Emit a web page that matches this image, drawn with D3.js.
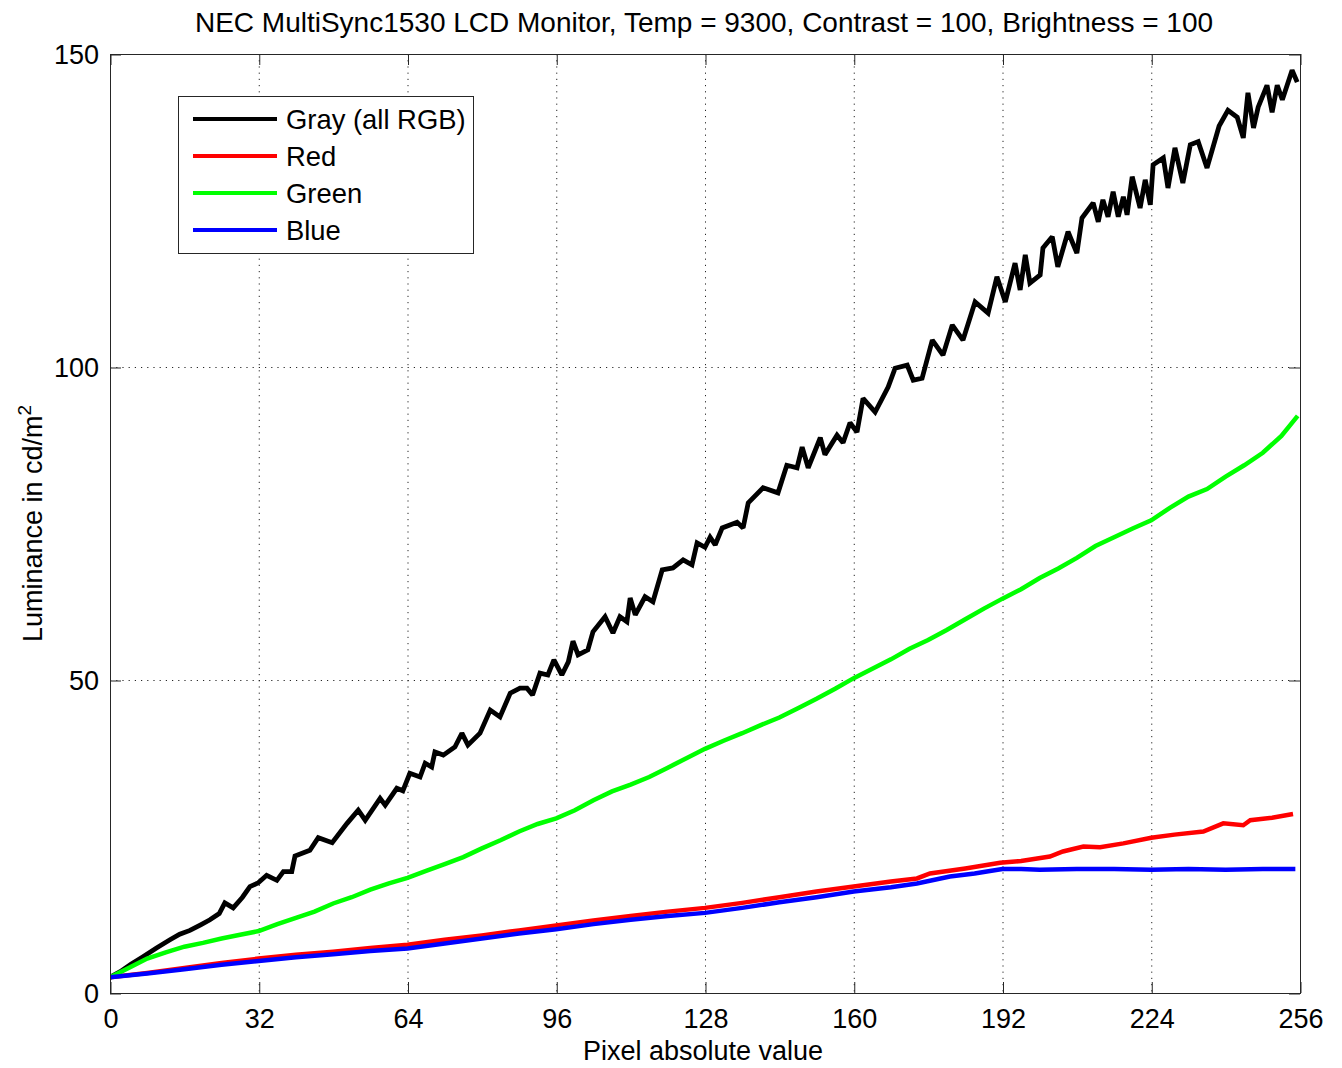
<!DOCTYPE html>
<html>
<head>
<meta charset="utf-8">
<script src="https://cdn.jsdelivr.net/npm/d3@7"></script>
<style>
  html, body { margin: 0; padding: 0; background: #fff; }
  svg { display: block; font-family: "Liberation Sans", Arial, Helvetica, sans-serif; }
</style>
</head>
<body>
<svg id="chart" width="1342" height="1068"></svg>
<script>
// ---------------- DATA ----------------
const titleText = "NEC MultiSync1530 LCD Monitor, Temp = 9300, Contrast = 100, Brightness = 100";
const xLabelText = "Pixel absolute value";
const yLabelText = "Luminance in cd/m";
const xTicks = [0, 32, 64, 96, 128, 160, 192, 224, 256];
const yTicks = [0, 50, 100, 150];
const seriesNames = ["Gray (all RGB)", "Red", "Green", "Blue"];
const seriesColors = ["#000000", "#ff0000", "#00ff00", "#0000ff"];

const grayX = [0,2.2,4.5,7.1,10,12.9,15,17.2,19.5,21.5,23.5,24.7,26.5,28.5,30.1,31.9,33.7,35.9,37.3,39.1,39.8,43,44.8,47.8,51,53.4,54.9,58.1,59.2,61.7,63,64.5,66.7,67.8,69.2,69.9,71.7,74.2,75.7,77,79.6,81.8,83.9,86.1,88.2,89.7,90.9,92.5,94.2,95.5,97.2,98.6,99.6,100.7,102.8,103.9,106.5,108.2,109.7,111.2,111.9,113,115.1,116.8,118.8,121.1,123.3,125.2,126.3,128,129.1,130.2,131.7,134.9,136.2,137.3,140.5,143.7,145.6,147.8,148.9,150.2,152.8,153.8,156.4,157.7,159.2,160.7,162,164.6,167.4,168.9,171.5,172.8,174.7,176.9,179.2,181.2,183.5,186.1,188.9,190.8,192.6,194.7,195.8,196.9,197.9,200.1,200.7,202.7,203.9,206.1,208,209.1,211.5,212.6,213.6,214.7,215.8,216.9,218,218.8,219.9,221.6,222.7,223.8,224.4,226.6,227.6,229.1,230.8,232.4,234.1,236,238.6,240.5,242.5,243.8,244.8,246,247,248.9,250,251.1,252.2,254.3,255.4];
const grayY = [2.5,3.4,4.6,5.8,7.2,8.5,9.4,10,10.9,11.7,12.7,14.4,13.6,15.3,17,17.6,18.8,18.0,19.4,19.4,21.9,22.8,24.8,24.0,27.1,29.2,27.6,31.1,30,32.7,32.3,35.1,34.5,36.7,36.1,38.5,38,39.3,41.5,39.6,41.5,45.2,44.1,47.9,48.7,48.7,47.6,51.1,50.8,53.2,50.8,52.9,56.2,54,54.8,57.7,60.1,57.5,60.1,59.3,63.1,60.4,63.3,62.5,67.6,67.9,69.2,68.4,71.9,71.2,72.8,71.6,74.3,75.2,74.3,78.3,80.7,79.9,84.3,83.9,87.2,83.9,88.7,86,89.1,87.9,91.1,89.6,95,92.8,96.8,99.8,100.3,97.9,98.2,104.3,101.9,106.7,104.3,110.4,108.6,114.4,110.4,116.6,112.3,117.9,113.4,114.7,119,120.8,116,121.6,118.2,123.8,126.2,123.2,126.7,124,128,124,127.2,124.3,130.4,125.4,129.9,125.9,132.3,133.4,128.6,135,129.4,135.5,136,131.8,138.5,141,139.9,136.6,143.8,138.2,141.5,145,140.7,145,142.7,147.4,145.5];

const greenX = [0,4,8,12,16,20,24,28,32,36,40,44,48,52,56,60,64,68,72,76,80,84,88,92,96,100,104,108,112,116,120,124,128,132,136,140,144,148,152,156,160,164,168,172,176,180,184,188,192,196,200,204,208,212,216,220,224,228,232,236,240,244,248,252,255.5];
const greenY = [2.5,4.0,5.5,6.5,7.4,8.0,8.7,9.3,9.9,11.0,12.0,13.0,14.3,15.3,16.5,17.5,18.4,19.5,20.6,21.7,23.1,24.4,25.8,27.0,27.9,29.2,30.8,32.2,33.3,34.5,36.0,37.5,39.0,40.3,41.5,42.8,44.0,45.5,47.0,48.6,50.3,51.8,53.3,55.0,56.4,58.0,59.7,61.4,63.0,64.5,66.3,67.8,69.5,71.4,72.8,74.2,75.5,77.5,79.3,80.5,82.5,84.3,86.3,89.0,92.2];

const redX = [0,8,16,24,32,40,48,56,64,72,80,88,96,104,112,120,128,136,144,152,160,168,173.6,176.4,184,191.5,196,202.2,205,209.4,213,218,224,229,235.2,239.5,243.8,245.3,250,254.5];
const redY = [2.5,3.2,4.0,4.8,5.5,6.1,6.6,7.2,7.7,8.5,9.2,10.0,10.8,11.6,12.3,13.0,13.6,14.4,15.3,16.2,17.0,17.8,18.3,19.1,19.9,20.8,21.1,21.8,22.6,23.4,23.3,23.9,24.8,25.3,25.8,27.1,26.8,27.6,28.0,28.6];

const blueX = [0,8,16,24,32,40,48,56,64,72,80,88,96,104,112,120,128,136,144,152,160,168,173.6,180.7,186,189.3,192,196,200,208,216,224,232,240,248,255];
const blueY = [2.5,3.1,3.8,4.5,5.1,5.7,6.2,6.7,7.1,7.9,8.7,9.5,10.2,11.0,11.7,12.3,12.8,13.6,14.5,15.3,16.2,16.9,17.5,18.6,19.1,19.5,19.8,19.8,19.7,19.8,19.8,19.7,19.8,19.7,19.8,19.8];

// ---------------- LAYOUT ----------------
const svg = d3.select("#chart");
const pLeft = 110, pRight = 1300, pTop = 54, pBottom = 993;
const x = d3.scaleLinear().domain([0, 256]).range([pLeft, pRight]);
const y = d3.scaleLinear().domain([0, 150]).range([pBottom, pTop]);
const axisColor = "#262626";
const fontSize = 27;
const tickLen = 11;

// grid
const grid = svg.append("g");
grid.selectAll("line.gx").data(xTicks.filter(d => d > 0 && d < 256)).enter().append("line")
  .attr("x1", d => x(d) + 0.5).attr("x2", d => x(d) + 0.5)
  .attr("y1", pTop).attr("y2", pBottom)
  .attr("stroke", axisColor).attr("stroke-width", 1).attr("stroke-dasharray", "1.2,5");
grid.selectAll("line.gy").data(yTicks.filter(d => d > 0 && d < 150)).enter().append("line")
  .attr("y1", d => y(d) + 0.5).attr("y2", d => y(d) + 0.5)
  .attr("x1", pLeft).attr("x2", pRight)
  .attr("stroke", axisColor).attr("stroke-width", 1).attr("stroke-dasharray", "1.2,5");

// series
const series = [
  {xs: grayX, ys: grayY},
  {xs: redX, ys: redY},
  {xs: greenX, ys: greenY},
  {xs: blueX, ys: blueY}
];
const line = d3.line().x(d => x(d[0])).y(d => y(d[1]));
svg.append("defs").append("clipPath").attr("id", "plotclip")
  .append("rect").attr("x", pLeft).attr("y", pTop).attr("width", pRight - pLeft).attr("height", pBottom - pTop);
const lines = svg.append("g").attr("clip-path", "url(#plotclip)");
series.forEach((s, i) => {
  const pts = s.xs.map((v, k) => [v, s.ys[k]]);
  lines.append("path").datum(pts)
    .attr("d", line)
    .attr("fill", "none")
    .attr("stroke", seriesColors[i])
    .attr("stroke-width", i === 0 ? 4.8 : 4.5)
    .attr("stroke-linejoin", "miter")
    .attr("stroke-miterlimit", 2);
});

// axes (box with inward ticks on all sides)
const axBottom = d3.axisBottom(x).tickValues(xTicks).tickSizeInner(-tickLen).tickSizeOuter(0).tickPadding(16).tickFormat(d3.format("d"));
const axTop = d3.axisTop(x).tickValues(xTicks).tickSizeInner(-tickLen).tickSizeOuter(0).tickFormat("");
const axLeft = d3.axisLeft(y).tickValues(yTicks).tickSizeInner(-tickLen).tickSizeOuter(0).tickPadding(11).tickFormat(d3.format("d"));
const axRight = d3.axisRight(y).tickValues(yTicks).tickSizeInner(-tickLen).tickSizeOuter(0).tickFormat("");

function styleAxis(g) {
  g.select(".domain").remove();
  g.selectAll(".tick line").attr("stroke", axisColor).attr("stroke-width", 1);
  g.selectAll(".tick text").attr("fill", "#000").style("font-size", fontSize + "px")
    .style("font-family", '"Liberation Sans", Arial, Helvetica, sans-serif');
}
svg.append("g").attr("transform", `translate(0.5,${pBottom})`).call(axBottom).call(styleAxis);
svg.append("g").attr("transform", `translate(0.5,${pTop})`).call(axTop).call(styleAxis);
svg.append("g").attr("transform", `translate(${pLeft},0.5)`).call(axLeft).call(styleAxis);
svg.append("g").attr("transform", `translate(${pRight},0.5)`).call(axRight).call(styleAxis);

svg.append("rect").attr("x", pLeft + 0.5).attr("y", pTop + 0.5)
  .attr("width", pRight - pLeft).attr("height", pBottom - pTop)
  .attr("fill", "none").attr("stroke", axisColor).attr("stroke-width", 1);

// title
svg.append("text").attr("x", 704).attr("y", 32)
  .attr("text-anchor", "middle").style("font-size", "28px").attr("fill", "#000")
  .text(titleText);

// x label
svg.append("text").attr("x", 703).attr("y", 1060)
  .attr("text-anchor", "middle").style("font-size", fontSize + "px").attr("fill", "#000")
  .text(xLabelText);

// y label with superscript
const yl = svg.append("text")
  .attr("transform", `translate(42,${(pTop + pBottom) / 2}) rotate(-90)`)
  .attr("text-anchor", "middle").style("font-size", fontSize + "px").attr("fill", "#000");
yl.append("tspan").text(yLabelText);
yl.append("tspan").attr("dy", -11).style("font-size", "19px").text("2");

// legend
const lg = svg.append("g");
lg.append("rect").attr("x", 178.5).attr("y", 96.5).attr("width", 295).attr("height", 157)
  .attr("fill", "#fff").attr("stroke", axisColor).attr("stroke-width", 1);
const rowY = [119, 156, 193, 230];
seriesNames.forEach((name, i) => {
  lg.append("line").attr("x1", 193).attr("x2", 277).attr("y1", rowY[i]).attr("y2", rowY[i])
    .attr("stroke", seriesColors[i]).attr("stroke-width", 4);
  lg.append("text").attr("x", 286).attr("y", rowY[i] + 10)
    .style("font-size", "27.4px").attr("fill", "#000").text(name);
});
</script>
</body>
</html>
